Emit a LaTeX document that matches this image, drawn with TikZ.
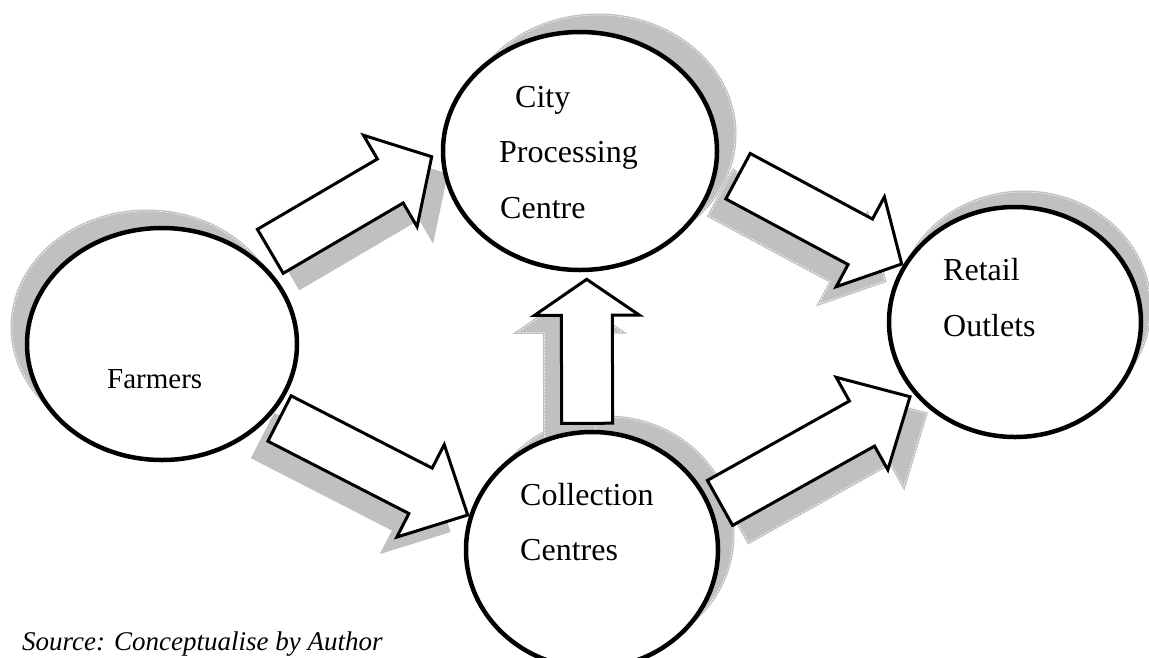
\documentclass[tikz,border=0pt]{standalone}
\usepackage{fontspec}
\setmainfont{Liberation Serif}
\usetikzlibrary{calc,shapes.geometric}
\pgfdeclarelayer{back}
\pgfdeclarelayer{bg}
\pgfsetlayers{back,bg,main}
\definecolor{shd}{HTML}{C0C0C0}
% #1 style, #2 tail, #3 tip, #4 half shaft width, #5 half head width, #6 head length
\newcommand\barrow[6]{\path[#1] ($(#2)!#4!90:(#3)$) -- ($($(#3)!#6!(#2)$)!#4!90:(#3)$) -- ($($(#3)!#6!(#2)$)!#5!90:(#3)$) -- (#3) -- ($($(#3)!#6!(#2)$)!#5!-90:(#3)$) -- ($($(#3)!#6!(#2)$)!#4!-90:(#3)$) -- ($(#2)!#4!-90:(#3)$) -- cycle;}
\tikzset{
  ell/.style={ellipse, draw=black, line width=4.5pt, fill=white, inner sep=0pt},
  blk/.style={draw=black, fill=white, line width=3pt, line join=miter, miter limit=10},
  shadowplain/.style={fill=shd},
  shadowedge/.style={fill=shd, draw=shd, line width=3pt, postaction={draw=white, line width=0.5pt, dash pattern=on 2pt off 1.2pt}},
  lbl/.style={anchor=base west, inner sep=0pt, font=\fontsize{32}{32}\selectfont},
}
\begin{document}
\begin{tikzpicture}[x=1pt,y=-1pt]
\useasboundingbox (0,0) rectangle (1149,657);
\begin{pgfonlayer}{back}
\fill[white] (0,0) rectangle (1149,657);
\end{pgfonlayer}
% ellipses
\node[ell, minimum width=270pt, minimum height=232pt] (farmers) at (162,344) {};
\node[ell, minimum width=274pt, minimum height=238pt] (city) at (580,151) {};
\node[ell, minimum width=252pt, minimum height=230pt] (retail) at (1015,322) {};
\node[ell, minimum width=252pt, minimum height=236pt] (collection) at (592,550) {};
% labels
\node[lbl, font=\fontsize{29}{29}\selectfont] (tfarmers) at (107,388) {Farmers};
\node[lbl] (tcity1) at (515,107) {City};
\node[lbl] (tcity2) at (499,162) {Processing};
\node[lbl] (tcity3) at (500,218) {Centre};
\node[lbl] (tret1) at (943,280) {Retail};
\node[lbl] (tret2) at (943,336) {Outlets};
\node[lbl] (tcol1) at (520,505) {Collection};
\node[lbl] (tcol2) at (520,560) {Centres};
\node[anchor=base west, inner sep=0pt, font=\fontsize{27}{27}\selectfont\itshape] (src) at (22,650) {Source: Conceptualise by Author};
% arrow end points
\coordinate (a1t) at (270.3,251.3); \coordinate (a1p) at (431.7,156.7);
\coordinate (a2t) at (279.5,418.5); \coordinate (a2p) at (467.7,515);
\coordinate (a3t) at (738,176.2);   \coordinate (a3p) at (901.7,264);
\coordinate (a4t) at (720,502.9);   \coordinate (a4p) at (910,396.7);
\coordinate (a5t) at (587.2,423.3); \coordinate (a5p) at (586.7,279.3);
% block arrows
\barrow{blk}{a1t}{a1p}{25.5pt}{53pt}{48pt}
\barrow{blk}{a2t}{a2p}{25.5pt}{52pt}{53pt}
\barrow{blk}{a3t}{a3p}{25.8pt}{51pt}{47pt}
\barrow{blk}{a4t}{a4p}{25.8pt}{53pt}{55pt}
\barrow{blk}{a5t}{a5p}{25.5pt}{52.5pt}{36pt}
% shadows
\begin{pgfonlayer}{bg}
\path[shadowedge] ([shift={(-15,-17)}]farmers.center) ellipse [x radius=135pt, y radius=116pt];
\path[shadowedge] ([shift={(18,-17)}]city.center) ellipse [x radius=137pt, y radius=119pt];
\path[shadowedge] ([shift={(9,-15)}]retail.center) ellipse [x radius=126pt, y radius=115pt];
\path[shadowedge] ([shift={(15,-15)}]collection.center) ellipse [x radius=126pt, y radius=118pt];
\barrow{shadowplain, transform canvas={shift={(16,17)}}}{a1t}{a1p}{25.5pt}{53pt}{48pt}
\barrow{shadowplain, transform canvas={shift={(-17,17)}}}{a2t}{a2p}{25.5pt}{52pt}{53pt}
\barrow{shadowedge, transform canvas={shift={(-17,17)}}}{a3t}{a3p}{25.8pt}{51pt}{47pt}
\barrow{shadowedge, transform canvas={shift={(16,17)}}}{a4t}{a4p}{25.8pt}{53pt}{55pt}
\barrow{shadowedge, transform canvas={shift={(-17,17)}}}{a5t}{a5p}{25.5pt}{52.5pt}{36pt}
\end{pgfonlayer}
\end{tikzpicture}
\end{document}
